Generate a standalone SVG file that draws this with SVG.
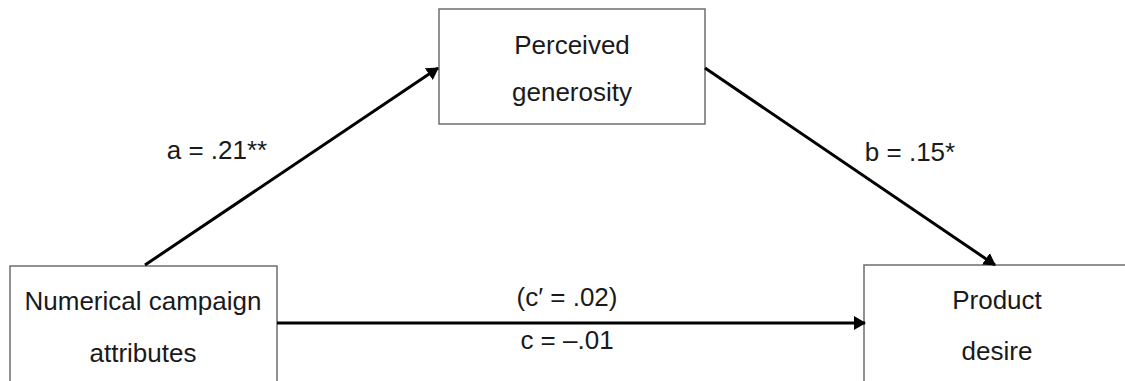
<svg xmlns="http://www.w3.org/2000/svg" width="1125" height="381" viewBox="0 0 1125 381">
<style>
.box{fill:#fff;stroke:#6e6e6e;stroke-width:1.5}
.t{font-family:"Liberation Sans",Arial,sans-serif;font-size:26px;fill:#1a1a1a;text-anchor:middle}
.ln{stroke:#000;stroke-width:3;fill:none;marker-end:url(#ah)}
</style>
<defs>
<marker id="ah" viewBox="0 0 12 14" refX="11" refY="7" markerWidth="12" markerHeight="14" markerUnits="userSpaceOnUse" orient="auto">
<path d="M0,0 L12,7 L0,14 Z" fill="#000"/>
</marker>
</defs>
<rect width="1125" height="381" fill="#fff"/>
<g id="node-numerical">
<rect class="box" x="10" y="266" width="267" height="130"/>
<text class="t" x="143" y="310">Numerical campaign</text>
<text class="t" x="143" y="362">attributes</text>
</g>
<g id="node-generosity">
<rect class="box" x="439" y="9" width="266" height="115"/>
<text class="t" x="572" y="54">Perceived</text>
<text class="t" x="572" y="101">generosity</text>
</g>
<g id="node-desire">
<rect class="box" x="864" y="265" width="280" height="130"/>
<text class="t" x="997" y="309">Product</text>
<text class="t" x="997" y="360">desire</text>
</g>
<g id="connectors">
<line class="ln" x1="145" y1="265" x2="438" y2="68"/>
<line class="ln" x1="705" y1="68" x2="995" y2="265"/>
<line class="ln" x1="277" y1="323" x2="865" y2="323"/>
</g>
<g id="labels">
<text class="t" x="217" y="159">a = .21**</text>
<text class="t" x="910" y="161">b = .15*</text>
<text class="t" x="567" y="306">(c′ = .02)</text>
<text class="t" x="567" y="349">c = –.01</text>
</g>
</svg>
